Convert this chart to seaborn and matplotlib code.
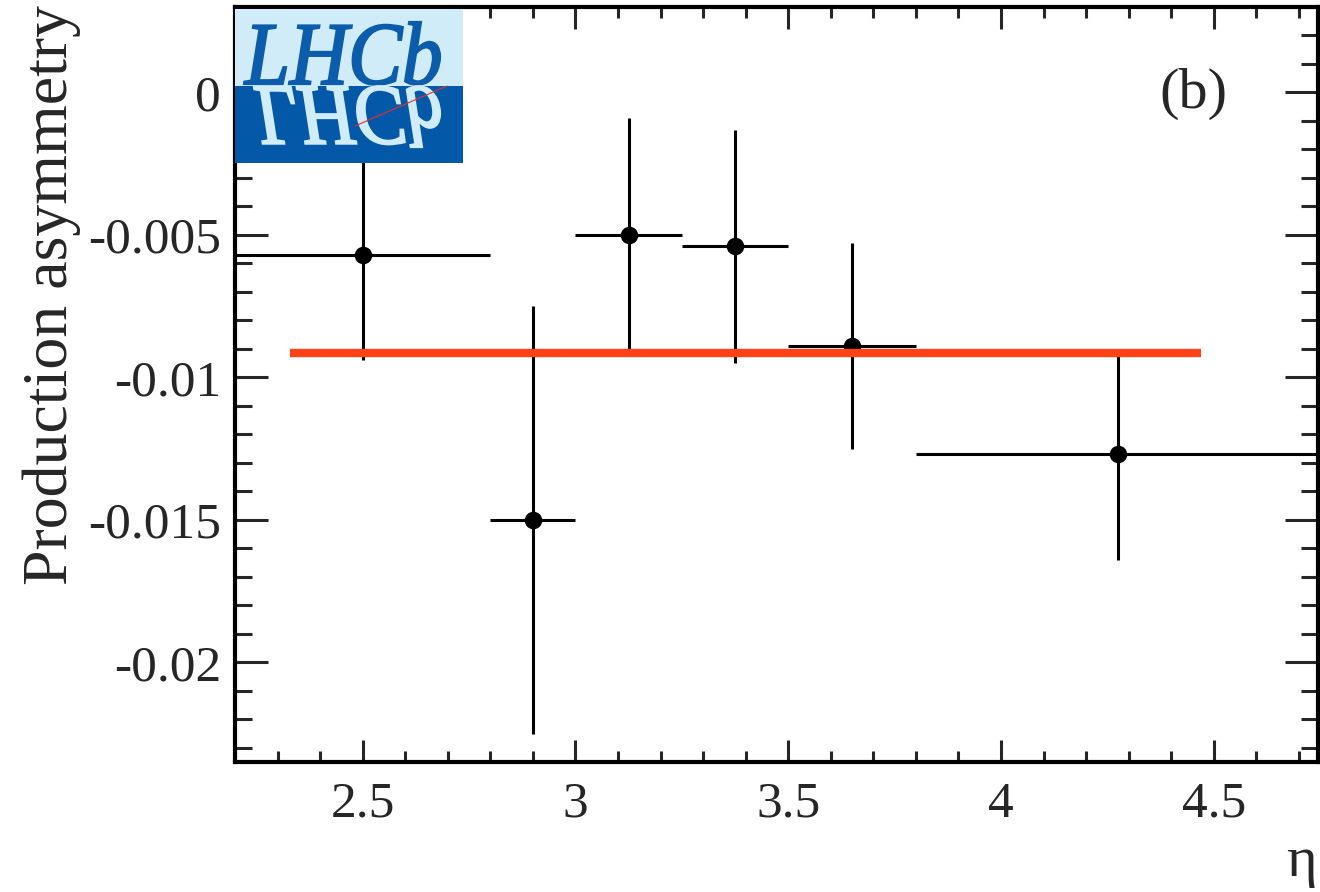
import numpy as np
import matplotlib
matplotlib.use("Agg")
import matplotlib.pyplot as plt
import seaborn as sns
import pandas as pd
from matplotlib.ticker import MultipleLocator, FuncFormatter
from matplotlib.textpath import TextPath
from matplotlib.patches import PathPatch, Rectangle
from matplotlib.font_manager import FontProperties
from matplotlib.transforms import Affine2D

# bins in eta and measured production asymmetry
eta_lo = [2.2, 2.8, 3.0, 3.25, 3.5, 3.8]
eta_hi = [2.8, 3.0, 3.25, 3.5, 3.8, 4.75]
eta_c = [2.5, 2.9, 3.125, 3.375, 3.65, 4.275]
asym = [-0.0057, -0.0150, -0.0050, -0.0054, -0.0089, -0.0127]
asym_err = [0.0037, 0.0075, 0.0041, 0.0041, 0.0036, 0.0037]

# fitted constant
fit_value = -0.00915
fit_range = [2.33, 4.47]

sns.set_style("ticks")
plt.rcParams["font.family"] = ["Liberation Serif", "DejaVu Serif"]
plt.rcParams["axes.unicode_minus"] = False

df = pd.DataFrame({"eta": eta_c, "asym": asym, "err": asym_err,
                   "lo": eta_lo, "hi": eta_hi})


def main():
    fig = plt.figure(figsize=(13.2, 8.92), dpi=100)
    ax = fig.add_axes([235 / 1320, 130 / 892, 1083 / 1320, 755 / 892])

    xerr = [df["eta"] - df["lo"], df["hi"] - df["eta"]]
    ax.errorbar(df["eta"], df["asym"], xerr=xerr, yerr=df["err"], fmt="none",
                ecolor="black", elinewidth=2.2, capsize=0, zorder=2)
    sns.scatterplot(data=df, x="eta", y="asym", ax=ax, color="black", s=160,
                    edgecolor="black", linewidth=0, zorder=3, legend=False)
    ax.hlines(fit_value, fit_range[0], fit_range[1], color="#FF4317",
              linewidth=6, zorder=4)

    ax.set_xlim(2.2, 4.745)
    ax.set_ylim(-0.0235, 0.003)
    ax.xaxis.set_major_locator(MultipleLocator(0.5))
    ax.xaxis.set_minor_locator(MultipleLocator(0.1))
    ax.yaxis.set_major_locator(MultipleLocator(0.005))
    ax.yaxis.set_minor_locator(MultipleLocator(0.001))
    ax.xaxis.set_major_formatter(FuncFormatter(lambda v, _: f"{v:g}"))
    ax.yaxis.set_major_formatter(FuncFormatter(lambda v, _: f"{round(v, 4):g}"))

    ax.tick_params(axis="both", which="both", direction="in", top=True,
                   right=True, width=2.2, labelsize=37)
    ax.tick_params(axis="x", which="major", length=16, pad=14)
    ax.tick_params(axis="x", which="minor", length=8)
    ax.tick_params(axis="y", which="major", length=24, pad=10)
    ax.tick_params(axis="y", which="minor", length=12)
    for sp in ax.spines.values():
        sp.set_linewidth(3)
        sp.set_color("black")

    ax.set_ylabel("Production asymmetry", fontsize=46, loc="top")
    ax.yaxis.set_label_coords(-0.142, 1.003)
    ax.set_xlabel("η", fontsize=42, loc="right")
    ax.xaxis.set_label_coords(0.999, -0.098)

    ax.text(0.8846, 0.8848, "(b)", transform=ax.transAxes, fontsize=42,
            ha="center", va="center")

    # LHCb logo
    lg = fig.add_axes([235 / 1320, 729 / 892, 228 / 1320, 154 / 892])
    lg.set_xlim(0, 228)
    lg.set_ylim(0, 154)
    lg.axis("off")
    lg.add_patch(Rectangle((0, 77), 228, 77, color="#D0ECF8", lw=0))
    lg.add_patch(Rectangle((0, 0), 228, 77, color="#0358A8", lw=0))
    fp = FontProperties(family="Liberation Serif", style="italic")
    tp = TextPath((0, 0), "LHCb", prop=fp, size=1)
    ext = tp.get_extents()
    up = Affine2D().translate(-ext.x0, 0).scale(196 / ext.width, 62 / ext.y1).translate(9, 79)
    lg.add_patch(PathPatch(up.transform_path(tp), facecolor="#0B5CAB",
                           edgecolor="#0B5CAB", lw=1.6))
    dn = Affine2D().translate(-ext.x0, 0).scale(186 / ext.width, -60 / ext.y1).translate(19, 76)
    lg.add_patch(PathPatch(dn.transform_path(tp), facecolor="#D0ECF8",
                           edgecolor="#D0ECF8", lw=1.6))
    lg.plot([120, 212], [37, 77], color="#E03030", lw=0.8)

    fig.savefig("out.png", dpi=100)


if __name__ == "__main__":
    main()
